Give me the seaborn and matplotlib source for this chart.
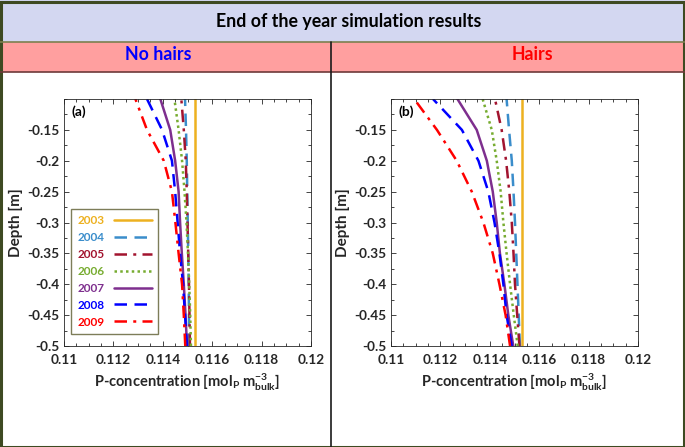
import numpy as np
import pandas as pd
import matplotlib
matplotlib.use("Agg")
import matplotlib.pyplot as plt
import seaborn as sns
from matplotlib.patches import Rectangle
from matplotlib.lines import Line2D
from matplotlib.ticker import MultipleLocator

sns.set_theme(style="white")
plt.rcParams['font.family'] = ['Lato', 'DejaVu Sans']
plt.rcParams['mathtext.default'] = 'regular'

years = ["2003", "2004", "2005", "2006", "2007", "2008", "2009"]
depth = [-0.10, -0.15, -0.20, -0.25, -0.30, -0.35, -0.40, -0.45, -0.50]

no_hairs = {
    "2003": [0.11530, 0.11530, 0.11530, 0.11530, 0.11530, 0.11530, 0.11530, 0.11530, 0.11530],
    "2004": [0.11490, 0.11494, 0.11497, 0.11499, 0.11501, 0.11503, 0.11505, 0.11506, 0.11507],
    "2005": [0.11475, 0.11485, 0.11493, 0.11497, 0.11500, 0.11503, 0.11506, 0.11508, 0.11510],
    "2006": [0.11447, 0.11464, 0.11478, 0.11488, 0.11496, 0.11502, 0.11507, 0.11511, 0.11514],
    "2007": [0.11390, 0.11430, 0.11450, 0.11464, 0.11470, 0.11477, 0.11485, 0.11492, 0.11498],
    "2008": [0.11336, 0.11397, 0.11437, 0.11450, 0.11460, 0.11470, 0.11482, 0.11490, 0.11498],
    "2009": [0.11289, 0.11336, 0.11404, 0.11437, 0.11451, 0.11464, 0.11478, 0.11485, 0.11491],
}
hairs = {
    "2003": [0.11530, 0.11530, 0.11530, 0.11530, 0.11530, 0.11530, 0.11530, 0.11530, 0.11530],
    "2004": [0.11468, 0.11478, 0.11489, 0.11496, 0.11502, 0.11507, 0.11512, 0.11517, 0.11522],
    "2005": [0.11421, 0.11448, 0.11466, 0.11479, 0.11489, 0.11496, 0.11502, 0.11511, 0.11520],
    "2006": [0.11371, 0.11408, 0.11428, 0.11444, 0.11455, 0.11468, 0.11482, 0.11497, 0.11513],
    "2007": [0.11269, 0.11347, 0.11388, 0.11412, 0.11428, 0.11441, 0.11459, 0.11475, 0.11495],
    "2008": [0.11170, 0.11287, 0.11354, 0.11394, 0.11419, 0.11439, 0.11455, 0.11468, 0.11489],
    "2009": [0.11094, 0.11186, 0.11266, 0.11327, 0.11374, 0.11412, 0.11439, 0.11464, 0.11482],
}

palette = {"2003": "#EDB120", "2004": "#3A8DCB", "2005": "#A2142F", "2006": "#77AC30",
           "2007": "#7E2F8E", "2008": "#0000FF", "2009": "#FF0000"}
dashes = {"2003": "", "2004": (5, 3), "2005": (5, 2.5, 1.2, 2.5), "2006": (1, 1.3),
          "2007": "", "2008": (5, 3), "2009": (5, 2.5, 1.2, 2.5)}

x_ticks = [0.11, 0.112, 0.114, 0.116, 0.118, 0.12]
y_ticks = [-0.5, -0.45, -0.4, -0.35, -0.3, -0.25, -0.2, -0.15]


def to_long(d):
    rows = []
    for y in years:
        for dep, c in zip(depth, d[y]):
            rows.append({"year": y, "depth": dep, "conc": c})
    return pd.DataFrame(rows)


W, H = 685, 447
fig = plt.figure(figsize=(W / 100, H / 100), dpi=100)
fig.patch.set_facecolor("white")

# header bands
fig.add_artist(Rectangle((0, 1 - 42 / H), 1, 42 / H, transform=fig.transFigure,
                         facecolor="#D3D7F1", edgecolor="none", zorder=0))
fig.add_artist(Rectangle((0, 1 - 71.5 / H), 1, 29.5 / H, transform=fig.transFigure,
                         facecolor="#FF9F9F", edgecolor="none", zorder=0))
fig.add_artist(Line2D([0, 1], [1 - 42 / H] * 2, transform=fig.transFigure, color="#7C8050", lw=1.2))
fig.add_artist(Line2D([0, 1], [1 - 71.5 / H] * 2, transform=fig.transFigure, color="#6E3A3A", lw=1.2))
fig.add_artist(Line2D([331 / W] * 2, [0, 1 - 42 / H], transform=fig.transFigure, color="#1A1A1A", lw=1.2))
fig.add_artist(Rectangle((0.5 / W, 0.5 / H), 1 - 2 / W, 1 - 2 / H, transform=fig.transFigure,
                         facecolor="none", edgecolor="#3E4A22", lw=2.2))

fig.text(349 / W, 1 - 21 / H, "End of the year simulation results", ha="center", va="center",
         fontsize=12.8, fontweight="bold", color="black")
fig.text(158 / W, 1 - 55 / H, "No hairs", ha="center", va="center",
         fontsize=12.8, fontweight="bold", color="#0000FF")
fig.text(532 / W, 1 - 55 / H, "Hairs", ha="center", va="center",
         fontsize=12.8, fontweight="bold", color="#FF0000")

panels = [(no_hairs, 64, "(a)", True), (hairs, 391, "(b)", False)]
for data, left, lab, show_leg in panels:
    ax = fig.add_axes([left / W, (H - 346) / H, 247 / W, 247 / H])
    df = to_long(data)
    sns.lineplot(data=df, x="conc", y="depth", hue="year", style="year", palette=palette,
                 dashes=dashes, orient="y", sort=True, estimator=None, linewidth=1.8,
                 ax=ax, legend=show_leg)
    ax.set_xlim(0.11, 0.12)
    ax.set_ylim(-0.5, -0.1)
    ax.set_xticks(x_ticks)
    ax.set_xticklabels([f"{v:g}" for v in x_ticks])
    ax.set_yticks(y_ticks)
    ax.set_yticklabels([f"{v:g}" for v in y_ticks])
    ax.xaxis.set_minor_locator(MultipleLocator(0.0005))
    ax.yaxis.set_minor_locator(MultipleLocator(0.025))
    ax.tick_params(which="both", direction="in", top=True, right=True, bottom=True, left=True,
                   color="#262626", width=0.6)
    ax.tick_params(which="major", length=3.5, labelsize=9.8, labelcolor="#262626")
    ax.tick_params(axis="x", which="major", pad=6)
    ax.tick_params(axis="y", which="major", pad=3)
    ax.tick_params(which="minor", length=2)
    for t in ax.get_xticklabels() + ax.get_yticklabels():
        t.set_fontweight("bold")
    for s in ax.spines.values():
        s.set_color("#262626")
        s.set_linewidth(0.6)
        s.set_visible(True)
    ax.set_ylabel("Depth [m]", fontsize=11, fontweight="bold", color="#262626", labelpad=3)
    ax.set_xlabel(r"P-concentration [mol$_{P}$ m$^{-3}_{bulk}$]", fontsize=10.5,
                  fontweight="bold", color="#262626", labelpad=4)
    ax.text(0.03, 0.975, lab, transform=ax.transAxes, ha="left", va="top",
            fontsize=10, fontweight="bold", color="black")
    if show_leg:
        leg = ax.legend(loc="lower left", bbox_to_anchor=(7 / 247, 12 / 247), markerfirst=False,
                        labelcolor="linecolor", frameon=True, fancybox=False, fontsize=8.5,
                        handlelength=3.2, handletextpad=0.8, labelspacing=0.5,
                        borderpad=0.55, borderaxespad=0, title=None)
        leg.get_frame().set_edgecolor("#5C5C30")
        leg.get_frame().set_linewidth(1.0)
        for t in leg.get_texts():
            t.set_fontweight("bold")

fig.savefig("out.png", dpi=100)
